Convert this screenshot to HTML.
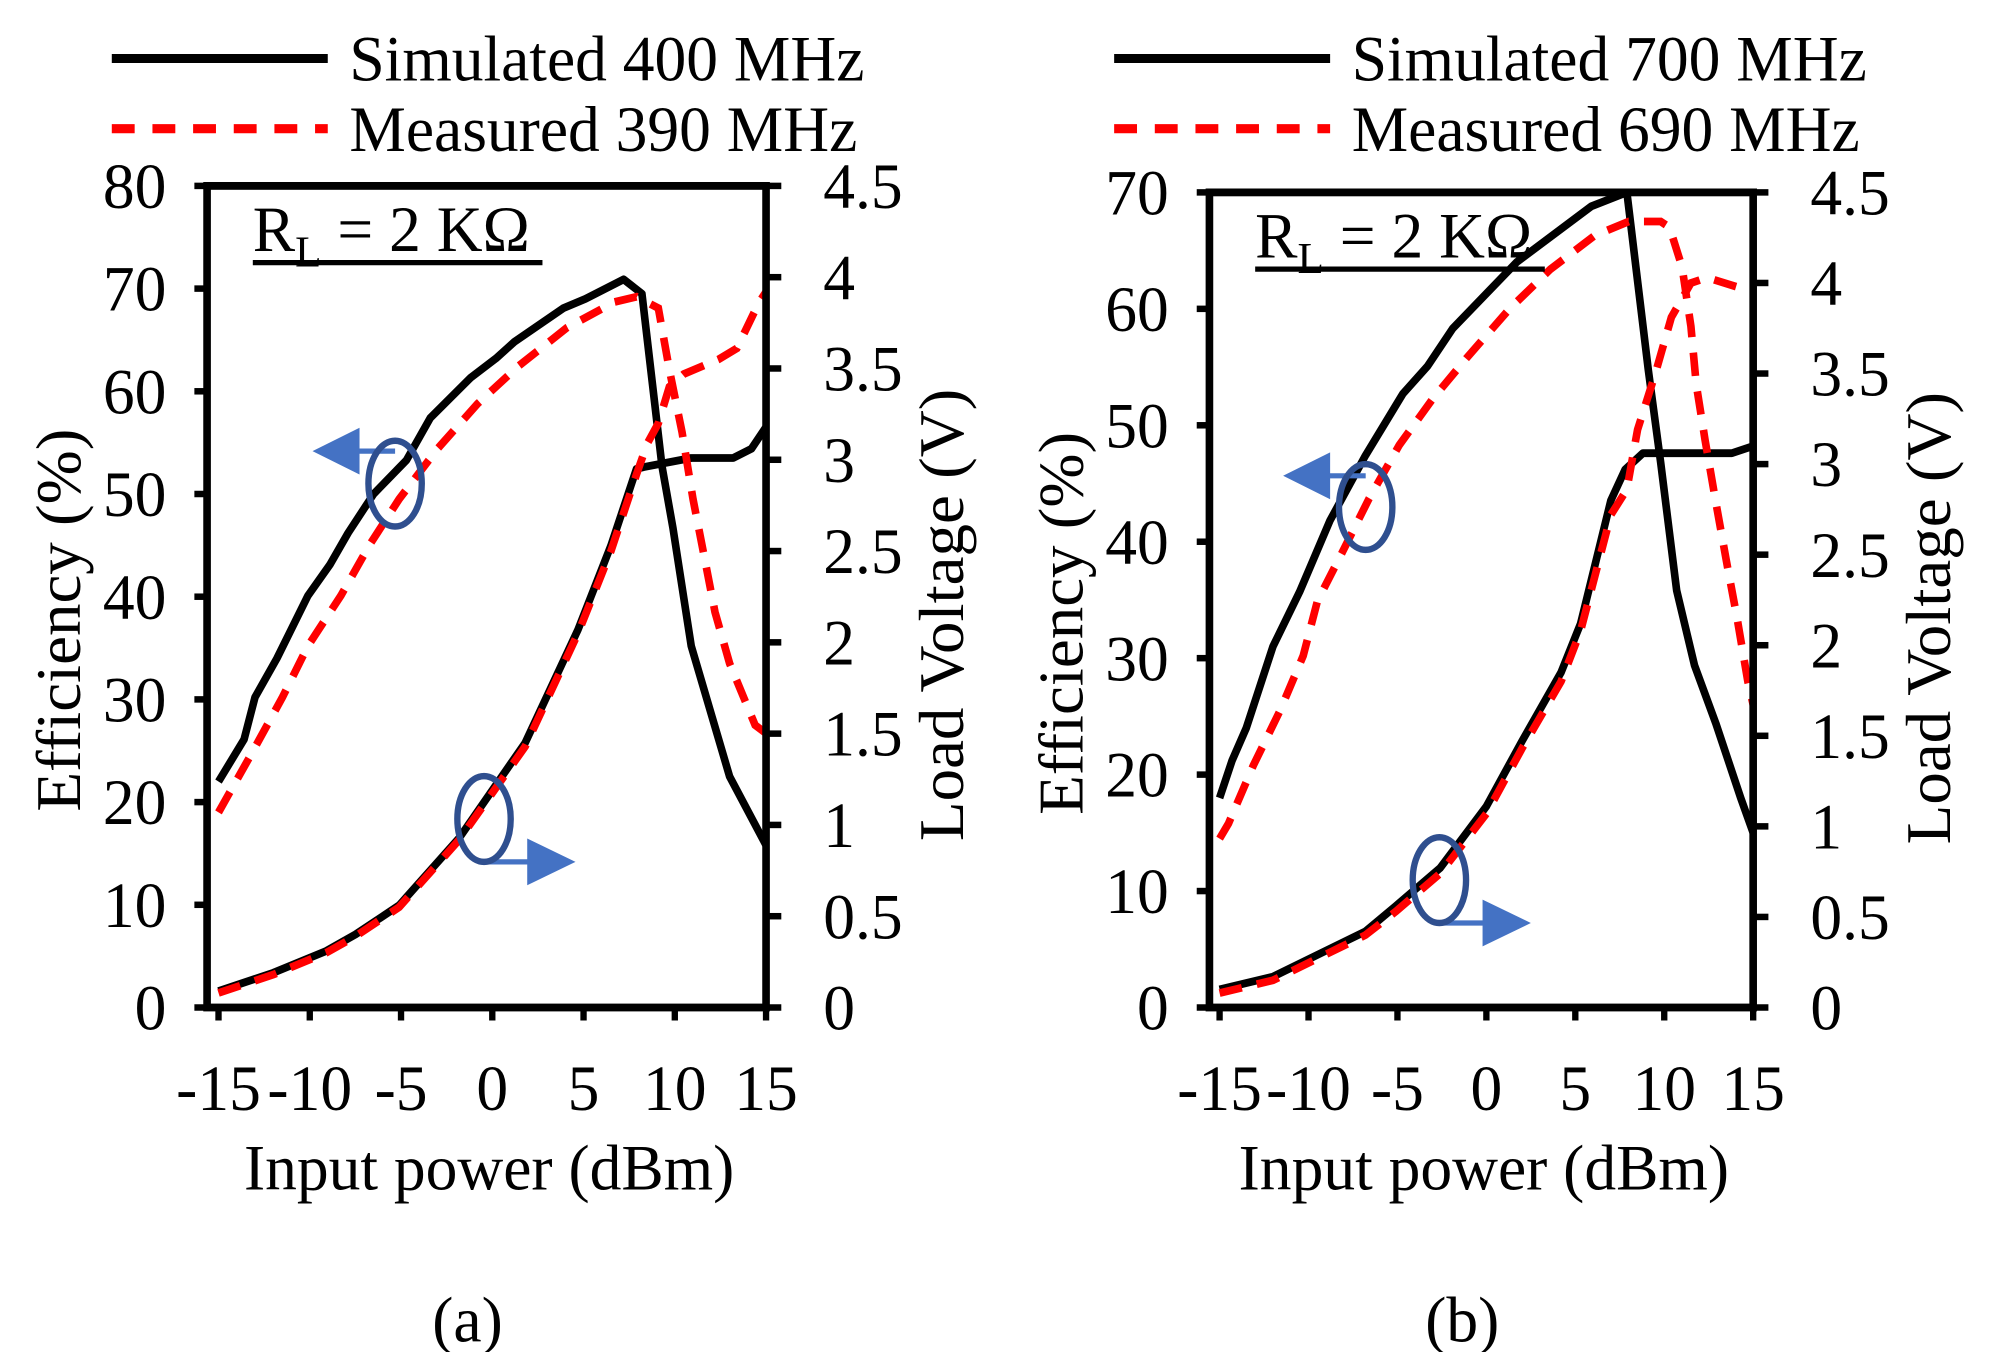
<!DOCTYPE html>
<html><head><meta charset="utf-8"><style>
html,body{margin:0;padding:0;background:#fff;}
svg{display:block;}
text{font-family:"Liberation Serif",serif;fill:#000;}
</style></head><body>
<svg id="fig" width="1992" height="1352" viewBox="0 0 1568 1040" preserveAspectRatio="none">
</svg>
<script>
// ---- Chart (a) data ----
const aEffSimX = [-15,-13.6,-13,-11.8,-10.1,-8.9,-7.9,-6.5,-4.7,-3.4,-1.2,0.2,1.2,3.9,5.1,7.2,8.2,9.3,9.9,10.9,13,15];
const aEffSimY = [22,26.1,30.2,34,40.1,43.1,46.2,50,53.3,57.4,61.3,63.2,64.8,68.1,69,70.9,69.5,52.7,46.7,35.2,22.5,15.8];
const aEffMeasX = [-15,-13.2,-11.5,-10.1,-8.3,-6.7,-5.1,-3,-0.8,1.4,4.1,6.7,7.9,9.1,9.7,10.4,11,11.6,12.2,13,14.4,15];
const aEffMeasY = [19,24.7,30.2,35.2,40.1,45.1,49.5,54.4,58.8,62.4,66.2,68.7,69.2,68.1,62.1,56,49.5,44,38.5,33.5,27.5,26.7];
const aVSimX = [-15,-12,-9.1,-7.5,-5.1,-1.8,1.8,4.7,6.5,7.9,8.3,10.9,13.2,14.2,15];
const aVSimY = [0.09,0.19,0.31,0.4,0.56,0.93,1.45,2.07,2.53,2.95,2.96,3.01,3.01,3.06,3.18];
const aVMeasX = [-15,-12,-9.1,-7.5,-5.1,-1.8,1.8,4.7,6.5,7.9,8.5,9.1,9.7,10.5,12.4,13.4,14.6,15];
const aVMeasY = [0.08,0.18,0.3,0.39,0.55,0.92,1.43,2.05,2.5,2.92,3.09,3.2,3.4,3.47,3.55,3.61,3.86,3.92];
// ---- Chart (b) data ----
const bEffSimX = [-15,-14.3,-13.5,-12,-10.5,-8.8,-6.8,-4.7,-3.3,-1.9,1.7,5.9,7.9,9.1,9.8,10.7,11.7,12.9,14.3,15];
const bEffSimY = [18,21.2,24,31,35.7,41.8,47.4,52.7,55.1,58.3,64,68.8,70,54.8,46.8,35.8,29.4,24.4,18,15];
const bEffMeasX = [-15,-14.5,-13.1,-11.6,-10.3,-9.5,-8.1,-6.6,-4.9,-3,-1.1,1.3,3.6,6.1,8,9.8,10.3,11,11.5,11.8,12.3,12.9,13.5,14.1,14.7,15];
const bEffMeasY = [14.5,15.8,20.8,25.5,30.2,34.9,39.1,43.7,48.3,52.3,55.8,60,63.4,66.3,67.5,67.5,67,63.6,58.5,53.5,48.7,43.4,38.3,33.4,28,26];
const bVSimX = [-15,-12,-9.3,-6.8,-5.1,-2.6,0,2,4.2,5.3,7,7.8,8.8,13.8,15];
const bVSimY = [0.1,0.17,0.3,0.42,0.56,0.77,1.11,1.47,1.85,2.12,2.8,2.97,3.06,3.06,3.1];
const bVMeasX = [-15,-12,-9.3,-6.8,-5.1,-2.6,0,2,4.2,5.3,7,7.9,8.5,9.5,10.4,11.5,12.4,15];
const bVMeasY = [0.08,0.15,0.28,0.4,0.53,0.74,1.07,1.43,1.8,2.08,2.72,2.86,3.19,3.5,3.81,4.0,4.03,3.95];
const xTicks = [-15,-10,-5,0,5,10,15];
const aEffTicks = [0,10,20,30,40,50,60,70,80];
const bEffTicks = [0,10,20,30,40,50,60,70];
const vTicks = [0,0.5,1,1.5,2,2.5,3,3.5,4,4.5];

const NS="http://www.w3.org/2000/svg";
const svg=document.getElementById('fig');
function el(tag,attrs,parent){const e=document.createElementNS(NS,tag);for(const k in attrs)e.setAttribute(k,attrs[k]);(parent||svg).appendChild(e);return e;}
function txt(s,x,y,size,anchor,parent){const t=el('text',{x:x,y:y,'font-size':size,'text-anchor':anchor||'middle'},parent);t.textContent=s;return t;}
const FS=50;

function chart(cfg){
  const g=el('g',{});
  
  
  const sx=v=>cfg.x0+(v+15)/30*(cfg.x1-cfg.x0);
  const sy=v=>cfg.yb-v/cfg.effMax*(cfg.yb-cfg.yt);
  const sv=v=>cfg.yb-v/4.5*(cfg.yb-cfg.yt);
  const path=(xs,ys,f)=>xs.map((x,i)=>(i?'L':'M')+sx(x).toFixed(1)+','+f(ys[i]).toFixed(1)).join('');
  const s1=el('path',{d:path(cfg.effSimX,cfg.effSimY,sy),fill:'none',stroke:'#000','stroke-width':6,'stroke-linejoin':'round'},g);
  
  
  const s2=el('path',{d:path(cfg.vSimX,cfg.vSimY,sv),fill:'none',stroke:'#000','stroke-width':6,'stroke-linejoin':'round'},g);
  
  
  const s3=el('path',{d:path(cfg.effMeasX,cfg.effMeasY,sy),fill:'none',stroke:'#ff0000','stroke-width':6,'stroke-dasharray':'18,12'},g);
  
  
  const s4=el('path',{d:path(cfg.vMeasX,cfg.vMeasY,sv),fill:'none',stroke:'#ff0000','stroke-width':6,'stroke-dasharray':'18,12'},g);
  
  
  const fr=el('rect',{x:cfg.fl,y:cfg.yt,width:cfg.x1-cfg.fl,height:cfg.yb-cfg.yt,fill:'none',stroke:'#000','stroke-width':6},g);
  
  
  cfg.effTicks.forEach(v=>{
    el('line',{x1:cfg.fl-10,x2:cfg.fl,y1:sy(v),y2:sy(v),stroke:'#000','stroke-width':5},g);
    const t=txt(String(v),cfg.fl-32,sy(v)+17,FS,'end',g);
    
    
  });
  vTicks.forEach(v=>{
    el('line',{x1:cfg.x1,x2:cfg.x1+12,y1:sv(v),y2:sv(v),stroke:'#000','stroke-width':5},g);
    const t=txt(String(v),cfg.x1+45,sv(v)+17,FS,'start',g);
    
    
  });
  xTicks.forEach(v=>{
    el('line',{x1:sx(v),x2:sx(v),y1:cfg.yb,y2:cfg.yb+10,stroke:'#000','stroke-width':5},g);
    const t=txt(String(v),sx(v),cfg.yb+79,FS,'middle',g);
    
    
  });
  const cx=(cfg.fl+cfg.x1)/2;
  const xt=txt('Input power (dBm)',cx+2,cfg.yb+140,FS,'middle',g);
  
  
  const yl=txt('Efficiency (%)',0,0,FS,'middle',g);
  yl.setAttribute('transform','translate('+(cfg.fl-100)+','+((cfg.yt+cfg.yb)/2+18)+') rotate(-90)');
  
  
  const yr=txt('Load Voltage (V)',0,0,FS,'middle',g);
  yr.setAttribute('transform','translate('+(cfg.x1+155)+','+((cfg.yt+cfg.yb)/2+14)+') rotate(-90)');
  
  
  const rl=el('text',{x:cfg.fl+36,y:cfg.yt+50,'font-size':FS},g);
  rl.innerHTML='R<tspan font-size="34" dy="12">L</tspan><tspan dy="-12"> = 2 KΩ</tspan>';
  
  
  el('line',{x1:cfg.fl+36,x2:cfg.fl+264,y1:cfg.yt+59,y2:cfg.yt+59,stroke:'#000','stroke-width':4},g);
  el('line',{x1:cfg.fl-75,x2:cfg.fl+95,y1:45,y2:45,stroke:'#000','stroke-width':7},g);
  el('line',{x1:cfg.fl-75,x2:cfg.fl+95,y1:99,y2:99,stroke:'#ff0000','stroke-width':7,'stroke-dasharray':'18,14'},g);
  const l1=txt(cfg.leg1,cfg.fl+112,62,FS,'start',g);
  
  
  const l2=txt(cfg.leg2,cfg.fl+112,116,FS,'start',g);
  
  
  const cap=txt(cfg.cap,cx-15,1032,FS,'middle',g);
  
  
  cfg.ann.forEach(a=>{
    const blue='#4472c4';
    el('line',{x1:a.cx,y1:a.ay,x2:a.dir<0?a.cx-30:a.cx+40,y2:a.ay,stroke:blue,'stroke-width':4},g);
    const tip=a.dir<0?a.cx-65:a.cx+72;
    const base=a.dir<0?a.cx-28:a.cx+34;
    const ar=el('polygon',{points:tip+','+a.ay+' '+base+','+(a.ay-18)+' '+base+','+(a.ay+18),fill:blue},g);
    
    
    const e=el('ellipse',{cx:a.cx,cy:a.cy,rx:21,ry:33,fill:'none',stroke:'#2f4f8f','stroke-width':5},g);
    
    
  });
}
chart({name:'chart-a',x0:172,x1:603,fl:163,yt:143,yb:775,effMax:80,effTicks:aEffTicks,
  effSimX:aEffSimX,effSimY:aEffSimY,effMeasX:aEffMeasX,effMeasY:aEffMeasY,vSimX:aVSimX,vSimY:aVSimY,vMeasX:aVMeasX,vMeasY:aVMeasY,
  leg1:'Simulated 400 MHz',leg2:'Measured 390 MHz',cap:'(a)',
  ann:[{cx:311,cy:372,ay:347,dir:-1},{cx:381,cy:630,ay:663,dir:1}]});
chart({name:'chart-b',x0:960,x1:1380,fl:952,yt:148,yb:775,effMax:70,effTicks:bEffTicks,
  effSimX:bEffSimX,effSimY:bEffSimY,effMeasX:bEffMeasX,effMeasY:bEffMeasY,vSimX:bVSimX,vSimY:bVSimY,vMeasX:bVMeasX,vMeasY:bVMeasY,
  leg1:'Simulated 700 MHz',leg2:'Measured 690 MHz',cap:'(b)',
  ann:[{cx:1075,cy:390,ay:366,dir:-1},{cx:1133,cy:677,ay:710,dir:1}]});
</script>
</body></html>
